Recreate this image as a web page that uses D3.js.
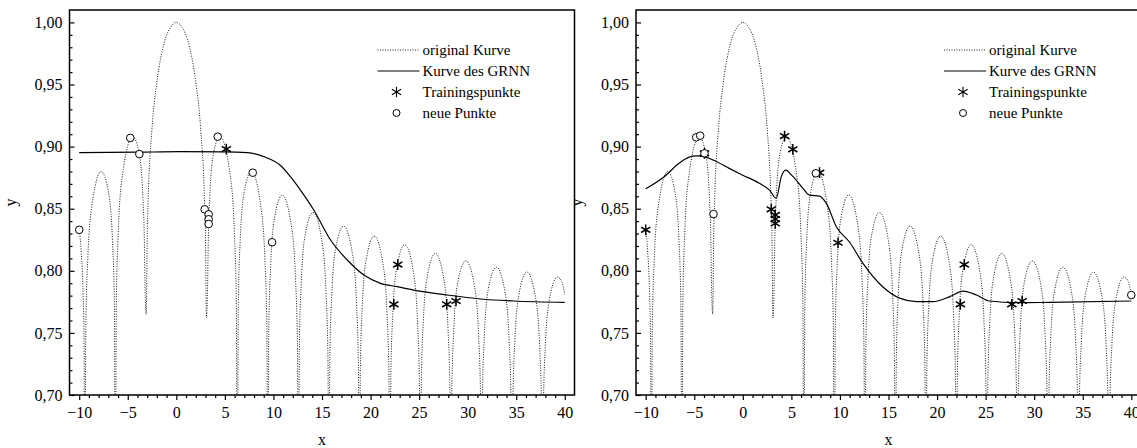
<!DOCTYPE html>
<html>
<head>
<meta charset="utf-8">
<script src="https://cdn.jsdelivr.net/npm/d3@7"></script>
<style>
body { margin: 0; background: #fff; }
svg { display: block; font-family: "Liberation Serif", "Times New Roman", serif; }
</style>
</head>
<body>
<div id="chart"></div>
<script>
// tick labels
var xTicks = [-10, -5, 0, 5, 10, 15, 20, 25, 30, 35, 40];
var yTicks = [0.70, 0.75, 0.80, 0.85, 0.90, 0.95, 1.00];
var legendLabels = ["original Kurve", "Kurve des GRNN", "Trainingspunkte", "neue Punkte"];

// original curve (dips go below the axis)
var originalCurve = [
  [-10, 0.834], [-9.8, 0.816], [-9.6, 0.781], [-9.5, 0.744], [-9.42, 0.60],
  [-9.32, 0.755], [-9.12, 0.809], [-8.72, 0.851], [-7.73, 0.880], [-6.98, 0.863], [-6.58, 0.825], [-6.38, 0.773], [-6.28, 0.60],
  [-6.18, 0.774], [-5.98, 0.830], [-5.58, 0.875], [-4.49, 0.908], [-3.84, 0.895], [-3.44, 0.859], [-3.3, 0.828], [-3.2, 0.780], [-3.1, 0.765],
  [-3.0, 0.827], [-2.9, 0.857], [-2.5, 0.915], [-2.0, 0.952], [-1.2, 0.985], [-0.6, 0.996], [0, 1.0], [0.6, 0.996], [1.2, 0.985],
  [2.0, 0.952], [2.5, 0.915], [2.9, 0.857], [3.0, 0.827], [3.1, 0.762],
  [3.2, 0.780], [3.3, 0.828], [3.44, 0.859], [3.84, 0.895], [4.49, 0.908], [5.58, 0.875], [5.98, 0.830], [6.18, 0.774], [6.28, 0.60],
  [6.38, 0.773], [6.58, 0.825], [6.98, 0.863], [7.73, 0.880], [8.72, 0.851], [9.12, 0.809], [9.32, 0.755], [9.42, 0.60],
  [9.52, 0.754], [9.72, 0.805], [10.12, 0.843], [10.90, 0.861], [11.87, 0.835], [12.27, 0.794], [12.47, 0.741], [12.57, 0.60],
  [12.67, 0.741], [12.87, 0.791], [13.27, 0.829], [14.07, 0.847], [15.01, 0.823], [15.41, 0.783], [15.61, 0.731], [15.71, 0.60],
  [15.81, 0.731], [16.01, 0.781], [16.41, 0.818], [17.22, 0.836], [18.15, 0.813], [18.55, 0.774], [18.75, 0.723], [18.85, 0.60],
  [18.95, 0.722], [19.15, 0.772], [19.55, 0.809], [20.37, 0.828], [21.29, 0.805], [21.69, 0.766], [21.89, 0.716], [21.99, 0.60],
  [22.09, 0.716], [22.29, 0.765], [22.69, 0.802], [23.52, 0.821], [24.43, 0.798], [24.83, 0.760], [25.03, 0.710], [25.13, 0.60],
  [25.23, 0.710], [25.43, 0.759], [25.83, 0.795], [26.67, 0.814], [27.57, 0.792], [27.97, 0.754], [28.17, 0.705], [28.27, 0.60],
  [28.37, 0.705], [28.57, 0.753], [28.97, 0.790], [29.81, 0.808], [30.72, 0.787], [31.12, 0.749], [31.32, 0.700], [31.42, 0.60],
  [31.52, 0.700], [31.72, 0.748], [32.12, 0.785], [32.96, 0.803], [33.86, 0.782], [34.26, 0.745], [34.46, 0.696], [34.56, 0.60],
  [34.66, 0.696], [34.86, 0.744], [35.26, 0.780], [36.10, 0.799], [37.00, 0.778], [37.40, 0.741], [37.60, 0.692], [37.70, 0.60],
  [37.80, 0.692], [38.00, 0.740], [38.40, 0.776], [39.24, 0.795], [39.70, 0.791], [40.0, 0.781]
];

// GRNN output, left and right panel
var grnnLeft = [
  [-10, 0.8951], [-4, 0.8955], [0.4, 0.8959], [5, 0.8958], [7.3, 0.8951], [9.0, 0.8919], [10.7, 0.885],
  [11.75, 0.8758], [12.78, 0.865], [14.15, 0.849], [15.88, 0.8248], [17.6, 0.8087], [19.31, 0.7966],
  [21.03, 0.7899], [22.75, 0.7872], [24.46, 0.7845], [27.9, 0.7805], [31.34, 0.7773], [34.77, 0.7757], [40.0, 0.7746]
];
var grnnRight = [
  [-10.0, 0.866], [-8.07, 0.876], [-6.5, 0.887], [-5.15, 0.8924], [-4.6, 0.8925], [-3.95, 0.892], [-3.0, 0.889],
  [-1.4, 0.8825], [0.0, 0.877], [1.7, 0.8705], [2.75, 0.865], [3.44, 0.8585], [3.96, 0.8758], [4.4, 0.881],
  [5.15, 0.876], [6.19, 0.8664], [6.87, 0.861], [7.9, 0.8602], [8.6, 0.8543], [9.63, 0.8355], [11.0, 0.823],
  [12.37, 0.806], [14.43, 0.787], [16.15, 0.778], [17.88, 0.7752], [19.6, 0.7752], [21.3, 0.7792], [22.68, 0.7837],
  [24.06, 0.7805], [25.4, 0.7757], [28.2, 0.7743], [31.6, 0.7746], [40.0, 0.7757]
];

// training points (stars) and new points (circles)
var trainLeft = [[5.15, 0.898], [22.4, 0.773], [22.8, 0.805], [27.84, 0.773], [28.8, 0.7757]];
var newLeft = [[-10, 0.833], [-4.74, 0.907], [-3.81, 0.894], [2.92, 0.8495], [3.33, 0.8455], [3.33, 0.8415],
  [3.33, 0.8377], [4.26, 0.908], [7.87, 0.879], [9.86, 0.823]];
var trainRight = [[-10, 0.833], [-3.95, 0.8946], [2.93, 0.8495], [3.34, 0.845], [3.34, 0.8417], [3.34, 0.8382],
  [4.3, 0.9085], [5.15, 0.8978], [7.9, 0.879], [9.8, 0.8226], [22.4, 0.773], [22.8, 0.805], [27.7, 0.773], [28.76, 0.7757]];
var newRight = [[-4.8, 0.9075], [-4.39, 0.9088], [-3.95, 0.8946], [-3.02, 0.8457], [7.52, 0.8785], [40, 0.7805]];

var width = 1137, height = 448;
var serif = "'Liberation Serif', 'Times New Roman', serif";
var svg = d3.select("#chart").append("svg")
    .attr("width", width)
    .attr("height", height);

var de = d3.formatLocale({decimal: ",", thousands: ".", grouping: [3], currency: ["", " €"]});
var fmt = de.format(".2f");

var star = d3.symbol().type(d3.symbolAsterisk).size(80);

function styleLabels(g) {
    g.select(".domain").remove();
    g.selectAll("text")
        .style("font-family", serif)
        .style("font-size", "16px")
        .style("fill", "#000");
}

function drawPanel(left, grnn, train, fresh, id) {
    var w = 505, top = 10, bottom = 395;
    var x = d3.scaleLinear().domain([-11, 41]).range([left, left + w]);
    var y = d3.scaleLinear().domain([0.70, 1.01]).range([bottom, top]);

    svg.append("clipPath").attr("id", "clip" + id)
        .append("rect")
        .attr("x", left).attr("y", top)
        .attr("width", w).attr("height", bottom - top);

    // minor ticks
    svg.append("g")
        .attr("transform", "translate(0," + bottom + ")")
        .call(d3.axisBottom(x).tickValues(d3.range(-10, 41).filter(function(v) { return v % 5 !== 0; }))
            .tickSize(3).tickFormat(""))
        .call(styleLabels);
    svg.append("g")
        .attr("transform", "translate(" + left + ",0)")
        .call(d3.axisLeft(y).tickValues(d3.range(71, 100).filter(function(v) { return v % 5 !== 0; }).map(function(v) { return v / 100; }))
            .tickSize(-3).tickFormat(""))
        .call(styleLabels);

    // major ticks
    svg.append("g")
        .attr("transform", "translate(0," + bottom + ")")
        .call(d3.axisBottom(x).tickValues(xTicks).tickSize(5).tickPadding(7))
        .call(styleLabels);
    svg.append("g")
        .attr("transform", "translate(" + left + ",0)")
        .call(d3.axisLeft(y).tickValues(yTicks).tickSize(-5).tickPadding(7).tickFormat(fmt))
        .call(styleLabels);

    svg.selectAll(".tick line").attr("stroke", "#000").attr("stroke-width", 1.2);

    // frame
    svg.append("rect")
        .attr("x", left).attr("y", top)
        .attr("width", w).attr("height", bottom - top)
        .attr("fill", "none").attr("stroke", "#000").attr("stroke-width", 1.5);

    var line = d3.line()
        .x(function(d) { return x(d[0]); })
        .y(function(d) { return y(d[1]); })
        .curve(d3.curveMonotoneX);

    var plot = svg.append("g").attr("clip-path", "url(#clip" + id + ")");

    plot.append("path")
        .datum(originalCurve)
        .attr("d", line)
        .attr("fill", "none")
        .attr("stroke", "#000")
        .attr("stroke-width", 0.9)
        .attr("stroke-dasharray", "1,1.5");

    plot.append("path")
        .datum(grnn)
        .attr("d", line)
        .attr("fill", "none")
        .attr("stroke", "#000")
        .attr("stroke-width", 1.2);

    plot.selectAll(".star")
        .data(train)
        .enter()
        .append("path")
        .attr("class", "star")
        .attr("d", star)
        .attr("transform", function(d) { return "translate(" + x(d[0]) + "," + y(d[1]) + ")"; })
        .attr("stroke", "#000")
        .attr("stroke-width", 1.5);

    plot.selectAll(".pt")
        .data(fresh)
        .enter()
        .append("circle")
        .attr("class", "pt")
        .attr("cx", function(d) { return x(d[0]); })
        .attr("cy", function(d) { return y(d[1]); })
        .attr("r", 3.8)
        .attr("fill", "#fff")
        .attr("stroke", "#000")
        .attr("stroke-width", 1);

    // axis titles
    svg.append("text")
        .attr("x", left + w / 2)
        .attr("y", 445)
        .attr("text-anchor", "middle")
        .style("font-family", serif)
        .style("font-size", "16px")
        .text("x");
    svg.append("text")
        .attr("transform", "translate(" + (left - 54) + "," + ((top + bottom) / 2) + ") rotate(-90)")
        .attr("text-anchor", "middle")
        .style("font-family", serif)
        .style("font-size", "16px")
        .text("y");

    // legend
    var lg = svg.append("g").attr("transform", "translate(" + (left + 308) + ",0)");
    var rows = [50, 71, 92, 113];
    lg.append("line").attr("x1", 0).attr("x2", 42).attr("y1", rows[0]).attr("y2", rows[0])
        .attr("stroke", "#000").attr("stroke-width", 0.9).attr("stroke-dasharray", "1,1.5");
    lg.append("line").attr("x1", 0).attr("x2", 42).attr("y1", rows[1]).attr("y2", rows[1])
        .attr("stroke", "#000").attr("stroke-width", 1.2);
    lg.append("path").attr("d", star).attr("transform", "translate(19," + rows[2] + ")")
        .attr("stroke", "#000").attr("stroke-width", 1.1);
    lg.append("circle").attr("cx", 19).attr("cy", rows[3]).attr("r", 3.5)
        .attr("fill", "#fff").attr("stroke", "#000");
    lg.selectAll(".lab")
        .data(legendLabels)
        .enter()
        .append("text")
        .attr("class", "lab")
        .attr("x", 45)
        .attr("y", function(d, i) { return rows[i] + 5; })
        .style("font-family", serif)
        .style("font-size", "15px")
        .text(function(d) { return d; });
}

drawPanel(69.5, grnnLeft, trainLeft, newLeft, "a");
drawPanel(636, grnnRight, trainRight, newRight, "b");
</script>
</body>
</html>
